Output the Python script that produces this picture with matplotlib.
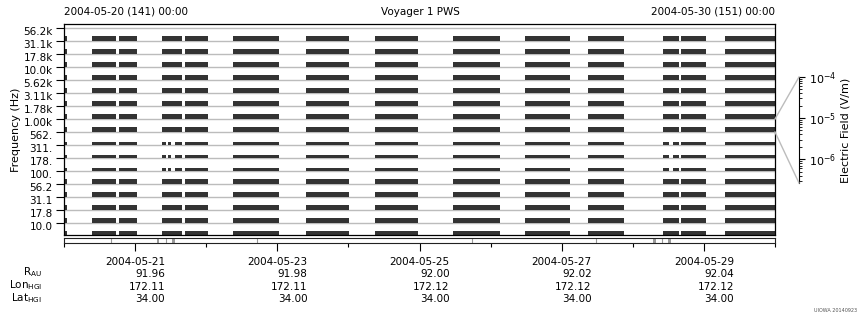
import matplotlib
matplotlib.use("Agg")
import matplotlib.pyplot as plt
from matplotlib.lines import Line2D
from matplotlib.transforms import ScaledTranslation
import numpy as np

plt.rcParams['font.family'] = ['DejaVu Sans']
plt.rcParams['mathtext.fontset'] = 'custom'
plt.rcParams['mathtext.rm'] = 'DejaVu Sans'

# ---------------- data ----------------
freq_labels = ["10.0", "17.8", "31.1", "56.2", "100.", "178.", "311.", "562.",
               "1.00k", "1.78k", "3.11k", "5.62k", "10.0k", "17.8k", "31.1k", "56.2k"]

# data coverage segments (days since 2004-05-20 00:00)
seg_start = [0.000, 0.394, 0.774, 1.378, 1.702, 2.377, 3.404, 4.374, 5.471, 6.484, 7.370, 8.425, 8.678, 9.297]
seg_end   = [0.042, 0.731, 1.027, 1.660, 2.025, 3.024, 4.008, 4.979, 6.132, 7.117, 7.876, 8.650, 9.030, 10.000]

# channels with weaker / gappy data (178, 311, 562 Hz)
weak_channels = [5, 6, 7]
gap_start = [1.434, 1.505, 8.509]
gap_end   = [1.462, 1.561, 8.565]

# bottom strip marks (days)
mark_lines = [0.661, 1.435, 2.714, 5.738, 7.482, 8.411]
mark_block_start = [1.308, 1.519, 8.284, 8.495]
mark_block_end   = [1.336, 1.561, 8.326, 8.537]

tick_days  = [1, 3, 5, 7, 9]
tick_dates = ["2004-05-21", "2004-05-23", "2004-05-25", "2004-05-27", "2004-05-29"]
r_au  = ["91.96", "91.98", "92.00", "92.02", "92.04"]
lon   = ["172.11", "172.11", "172.12", "172.12", "172.12"]
lat   = ["34.00", "34.00", "34.00", "34.00", "34.00"]

# ---------------- figure ----------------
W, H = 860, 320
fig = plt.figure(figsize=(W / 100, H / 100), dpi=100)

def px_axes(x0, y0, x1, y1):
    return fig.add_axes([x0 / W, 1 - y1 / H, (x1 - x0) / W, (y1 - y0) / H])

FS = 7.5
DARK = "#333333"
GRAY = "#bcbcbc"

ax = px_axes(64, 24, 775, 235)
ax.set_xlim(0, 10)
ax.set_ylim(-0.923, 15.31)
for i in range(len(freq_labels)):
    ax.axhline(i, color=GRAY, lw=1.0, zorder=1)
    segs = list(zip(seg_start, seg_end))
    h = 0.385
    if i in weak_channels:
        h = 0.25
        pieces = []
        for s, e in segs:
            cur = s
            for gs, ge in zip(gap_start, gap_end):
                if gs > cur and ge < e:
                    pieces.append((cur, gs))
                    cur = ge
            pieces.append((cur, e))
        segs = pieces
    # each channel's band lies below its tick; data drawn at the band bottom
    ax.broken_barh([(s, e - s) for s, e in segs], (i - 1, h),
                   facecolor=DARK, edgecolor='none', zorder=2)

ax.set_xticks([])
ax.set_yticks(range(len(freq_labels)))
ax.set_yticklabels(freq_labels, fontsize=FS)
ax.tick_params(axis='y', length=6, width=0.8, pad=2, colors='black')
for lbl in ax.get_yticklabels():
    lbl.set_transform(lbl.get_transform() + ScaledTranslation(0, -2 / 72, fig.dpi_scale_trans))
for sp in ax.spines.values():
    sp.set_linewidth(0.9)
ax.set_ylabel("Frequency (Hz)", fontsize=FS + 0.5, labelpad=2)

# strip below
st = px_axes(64, 238, 775, 243)
st.set_xlim(0, 10)
st.set_ylim(0, 1)
st.set_yticks([])
for d in mark_lines:
    st.axvline(d, color="#999999", lw=0.8)
for s, e in zip(mark_block_start, mark_block_end):
    st.axvspan(s, e, color="#999999", lw=0)
for sp in st.spines.values():
    sp.set_linewidth(0.8)
    sp.set_color("#222222")
st.set_xticks(tick_days)
st.set_xticks([0, 2, 4, 6, 8, 10], minor=True)
labels = [f"{d}\n{r}\n{lo}\n{la}" for d, r, lo, la in zip(tick_dates, r_au, lon, lat)]
st.set_xticklabels(labels, fontsize=FS, multialignment='right', linespacing=1.3)
st.tick_params(axis='x', which='major', length=6, width=0.8, pad=4)
st.tick_params(axis='x', which='minor', length=3, width=0.8)

# left row labels
for y, txt in zip([272, 285, 298], [r"R$_{\rm AU}$", r"Lon$_{\rm HGI}$", r"Lat$_{\rm HGI}$"]):
    fig.text(42 / W, 1 - y / H, txt, fontsize=FS, ha='right', va='center')

# header
fig.text(64 / W, 1 - 12 / H, "2004-05-20 (141) 00:00", fontsize=FS, ha='left', va='center')
fig.text(775 / W, 1 - 12 / H, "2004-05-30 (151) 00:00", fontsize=FS, ha='right', va='center')
fig.text(420 / W, 1 - 12 / H, "Voyager 1 PWS", fontsize=FS, ha='center', va='center')

# colour scale axis
cb = px_axes(798, 77, 799, 183)
cb.set_yscale('log')
cb.set_ylim(10 ** -6.58, 1e-4)
cb.set_xticks([])
for k in ['left', 'top', 'bottom']:
    cb.spines[k].set_visible(False)
cb.spines['right'].set_linewidth(0.8)
cb.yaxis.tick_right()
cb.tick_params(axis='y', which='major', length=4, width=0.8, labelsize=FS + 0.5, pad=3)
cb.tick_params(axis='y', which='minor', length=2, width=0.6)
cb.set_yticks([1e-6, 1e-5, 1e-4])

for y0, y1 in [(119, 77), (132, 183)]:
    fig.add_artist(Line2D([775 / W, 799 / W], [1 - y0 / H, 1 - y1 / H],
                          transform=fig.transFigure, color=GRAY, lw=1.0))

fig.text(846 / W, 1 - 130 / H, "Electric Field (V/m)", fontsize=FS + 0.5,
         rotation=90, ha='center', va='center')
fig.text(857 / W, 1 - 311 / H, "UIOWA 20140923", fontsize=3.5, ha='right', va='center', color='#555555')

fig.savefig("out.png", dpi=100)
